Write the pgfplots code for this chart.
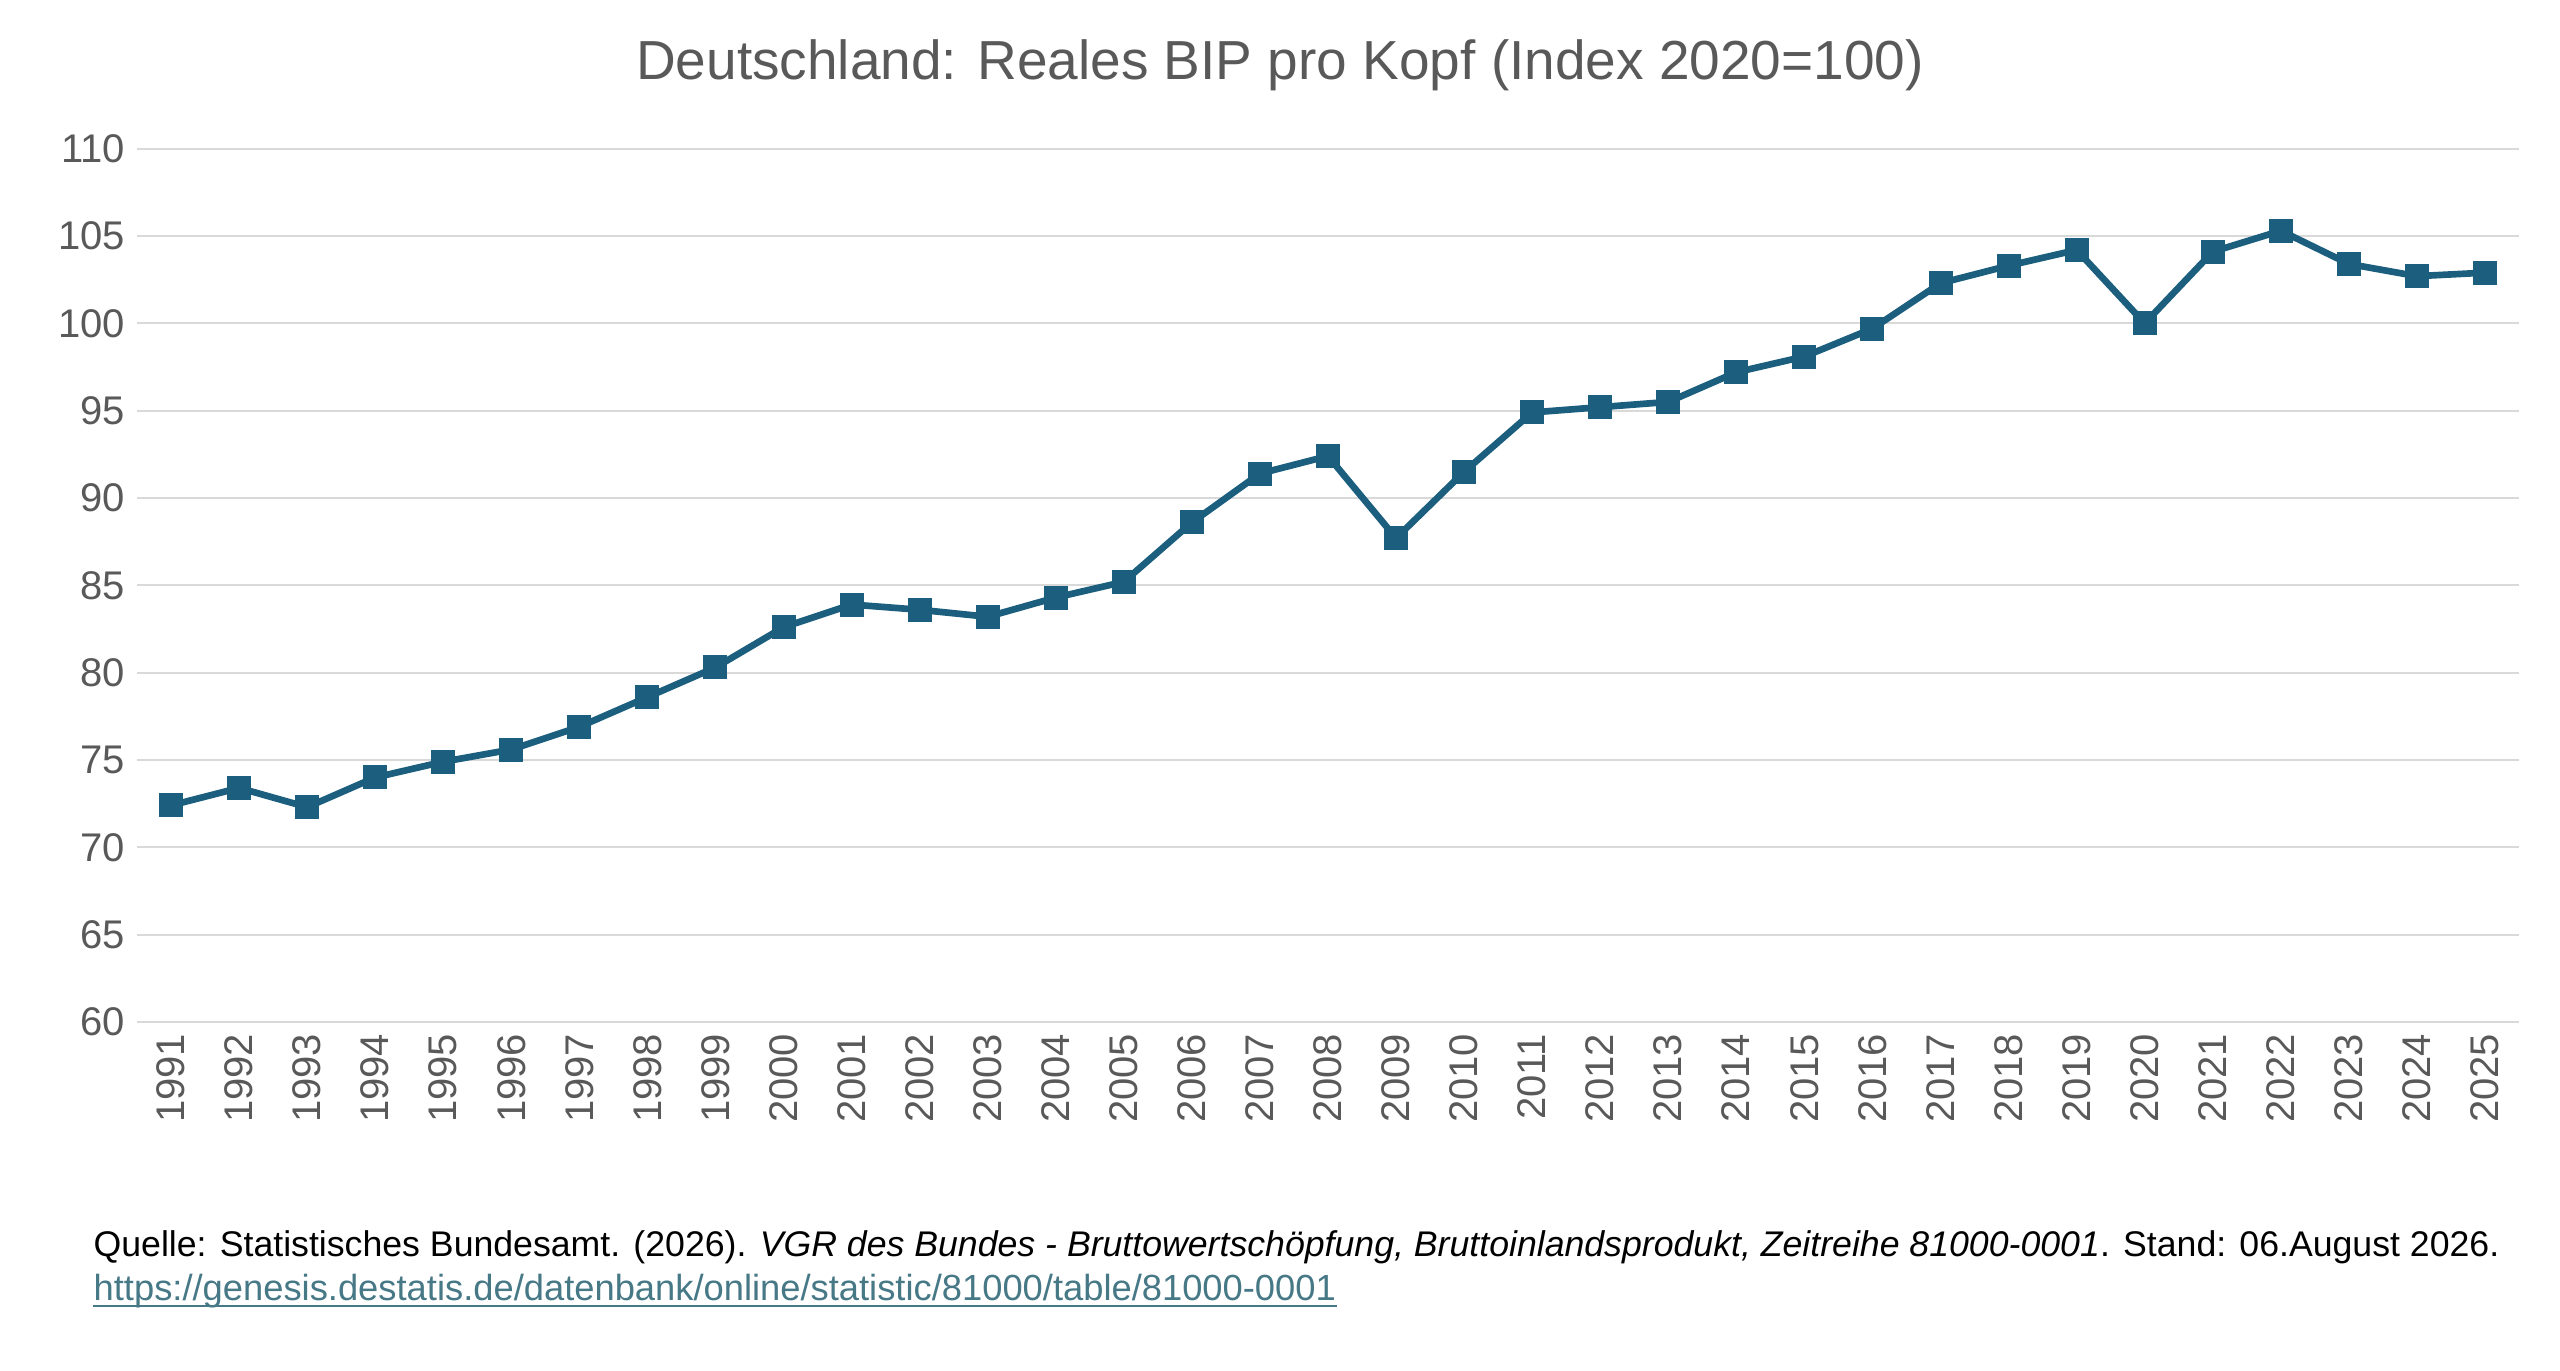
\documentclass[border=0pt]{standalone}
\usepackage{pgfplots}
\pgfplotsset{compat=1.18}
\usepackage{fontspec}
\setmainfont{Liberation Sans}
\definecolor{linec}{HTML}{1B5E7E}
\definecolor{txt}{HTML}{595959}
\definecolor{gridc}{HTML}{D9D9D9}
\definecolor{linkc}{HTML}{467886}
\begin{document}
\begin{tikzpicture}
\path (0,0) rectangle (768pt,411.3pt);
\begin{axis}[at={(41.1pt,104.7pt)}, anchor=south west, scale only axis,
 width=714.6pt, height=262pt,
 xmin=1990.5, xmax=2025.5, ymin=60, ymax=110,
 xtick={1991,...,2025}, ytick={60,65,...,110},
 xticklabel style={rotate=90, anchor=east, font=\fontsize{12}{14}\selectfont, text=txt},
 yticklabel style={font=\fontsize{12}{14}\selectfont, text=txt},
 /pgf/number format/assume math mode=true,
 /pgf/number format/1000 sep={},
 ymajorgrids, grid style={gridc, line width=0.6pt},
 axis lines*=left, y axis line style={draw=none}, x axis line style={gridc, line width=0.8pt, -},
 major tick length=0pt, tick style={draw=none},
 clip=false]
\addplot[linec, line width=2pt, mark=square*, mark size=2.6pt, mark options={fill=linec}] coordinates {
(1991,72.4)(1992,73.4)(1993,72.3)(1994,74.0)(1995,74.9)(1996,75.6)(1997,76.9)(1998,78.6)(1999,80.3)(2000,82.6)
(2001,83.9)(2002,83.6)(2003,83.2)(2004,84.3)(2005,85.2)(2006,88.6)(2007,91.4)(2008,92.4)(2009,87.7)(2010,91.5)
(2011,94.9)(2012,95.2)(2013,95.5)(2014,97.2)(2015,98.1)(2016,99.7)(2017,102.3)(2018,103.3)(2019,104.2)(2020,100.0)
(2021,104.1)(2022,105.3)(2023,103.4)(2024,102.7)(2025,102.9)};
\end{axis}
\node[text=txt, font=\fontsize{16.5}{19}\selectfont] at (384pt,391.8pt) {Deutschland: Reales BIP pro Kopf (Index 2020=100)};
\node[anchor=base west, inner sep=0pt, font=\fontsize{10.7}{12}\selectfont] at (27.9pt,34.2pt) {Quelle: Statistisches Bundesamt. (2026). \textit{VGR des Bundes - Bruttowertschöpfung, Bruttoinlandsprodukt, Zeitreihe 81000-0001}. Stand: 06.August 2026.};
\node[anchor=base west, inner sep=0pt, font=\fontsize{10.9}{12}\selectfont, text=linkc] (lk) at (27.9pt,21pt) {https://genesis.destatis.de/datenbank/online/statistic/81000/table/81000-0001};
\draw[linkc, line width=0.5pt] ([yshift=-1.5pt]lk.base west) -- ([yshift=-1.5pt]lk.base east);
\end{tikzpicture}
\end{document}
